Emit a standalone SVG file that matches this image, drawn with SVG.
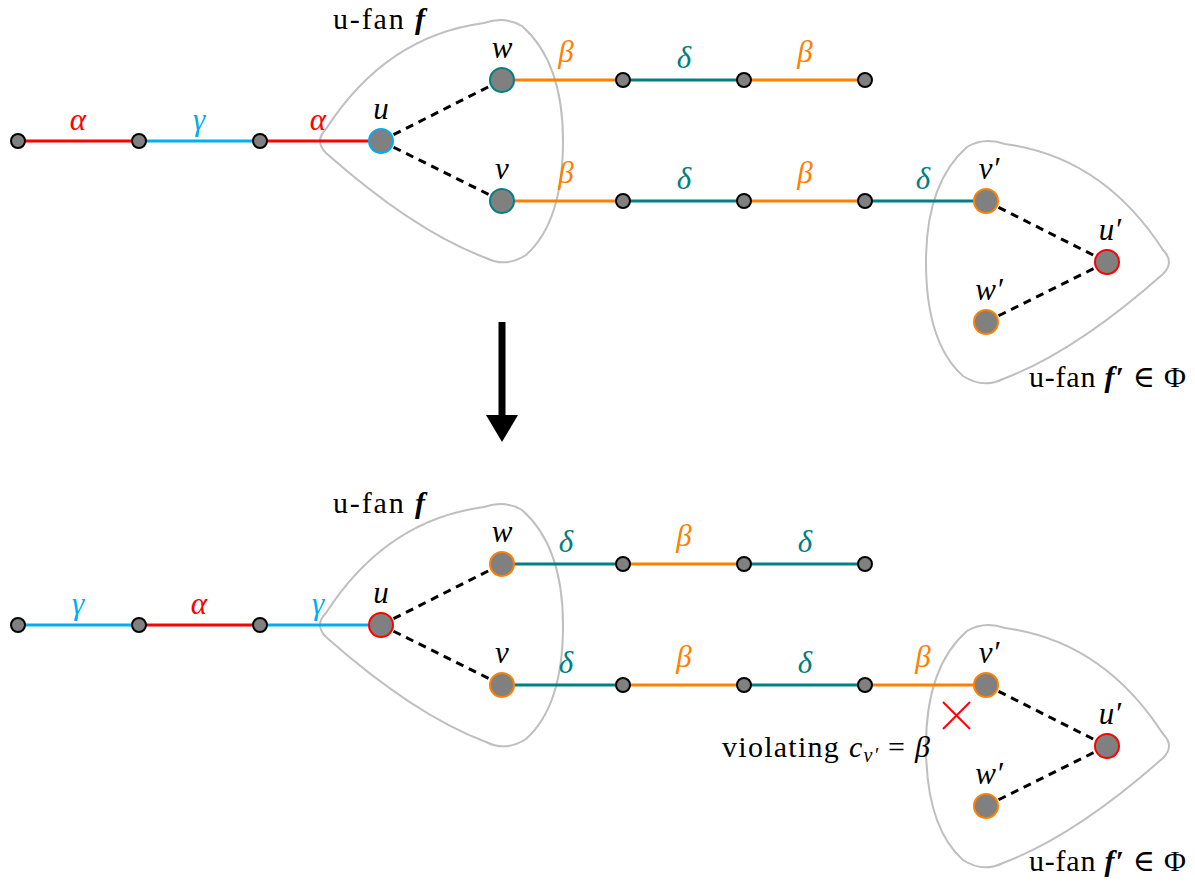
<svg xmlns="http://www.w3.org/2000/svg" width="1195" height="888" viewBox="0 0 1195 888">
<defs>
<style>
.fan{fill:none;stroke:#bfbfbf;stroke-width:2}
.e{stroke-width:3;fill:none}
.red{stroke:#ff0000}.cy{stroke:#00aeef}.or{stroke:#ff8000}.tl{stroke:#008080}
.d{stroke:#000;stroke-width:3;stroke-dasharray:8,6;fill:none}
.s{fill:#808080;stroke:#000;stroke-width:2}
.b{fill:#808080;stroke-width:2}
text{font-family:'Liberation Serif','Times New Roman','DejaVu Serif',serif}
.t{font-size:30px;fill:#000}
.g{font-style:italic;font-size:31px;text-anchor:middle}
.ta{fill:#ff0000}.tc{fill:#00aeef}.to{fill:#ff8000}.tt{fill:#008080}.tk{fill:#000}
</style>
<path id="fanshape" d="M 326,129 Q 386,36 484,23 Q 505,16 522,26 Q 563,62 563,141 Q 563,222 526,255 Q 506,268 486,258 Q 414,231 326,153 Q 314,141 326,129 Z"/>
</defs>

<!-- fans -->
<g id="fans">
<use href="#fanshape" class="fan"/>
<use href="#fanshape" class="fan" transform="translate(1489,121) scale(-1,1)"/>
<use href="#fanshape" class="fan" transform="translate(0,484)"/>
<use href="#fanshape" class="fan" transform="translate(1489,605) scale(-1,1)"/>
</g>

<!-- connectors -->
<g id="connectors">
<line class="e red" x1="18" y1="141" x2="139" y2="141"/>
<line class="e cy" x1="139" y1="141" x2="260" y2="141"/>
<line class="e red" x1="260" y1="141" x2="381" y2="141"/>
<line class="e or" x1="502" y1="80" x2="623" y2="80"/>
<line class="e tl" x1="623" y1="80" x2="744" y2="80"/>
<line class="e or" x1="744" y1="80" x2="865" y2="80"/>
<line class="e or" x1="502" y1="201" x2="623" y2="201"/>
<line class="e tl" x1="623" y1="201" x2="744" y2="201"/>
<line class="e or" x1="744" y1="201" x2="865" y2="201"/>
<line class="e tl" x1="865" y1="201" x2="986" y2="201"/>
<line class="d" x1="381" y1="141" x2="502" y2="80"/>
<line class="d" x1="381" y1="141" x2="502" y2="201"/>
<line class="d" x1="986" y1="201" x2="1107" y2="262"/>
<line class="d" x1="986" y1="322" x2="1107" y2="262"/>
<line class="e cy" x1="18" y1="625" x2="139" y2="625"/>
<line class="e red" x1="139" y1="625" x2="260" y2="625"/>
<line class="e cy" x1="260" y1="625" x2="381" y2="625"/>
<line class="e tl" x1="502" y1="564" x2="623" y2="564"/>
<line class="e or" x1="623" y1="564" x2="744" y2="564"/>
<line class="e tl" x1="744" y1="564" x2="865" y2="564"/>
<line class="e tl" x1="502" y1="685" x2="623" y2="685"/>
<line class="e or" x1="623" y1="685" x2="744" y2="685"/>
<line class="e tl" x1="744" y1="685" x2="865" y2="685"/>
<line class="e or" x1="865" y1="685" x2="986" y2="685"/>
<line class="d" x1="381" y1="625" x2="502" y2="564"/>
<line class="d" x1="381" y1="625" x2="502" y2="685"/>
<line class="d" x1="986" y1="685" x2="1107" y2="746"/>
<line class="d" x1="986" y1="806" x2="1107" y2="746"/>
<line x1="502" y1="322" x2="502" y2="418" stroke="#000" stroke-width="7"/>
<polygon points="486,415 518,415 502,442" fill="#000"/>
<line x1="943" y1="702" x2="970" y2="729" stroke="#ff0000" stroke-width="2"/>
<line x1="970" y1="702" x2="943" y2="729" stroke="#ff0000" stroke-width="2"/>
</g>

<!-- top nodes -->
<g id="top-n1"><circle class="s" cx="18" cy="141" r="7"/></g>
<g id="top-n2"><circle class="s" cx="139" cy="141" r="7"/></g>
<g id="top-n3"><circle class="s" cx="260" cy="141" r="7"/></g>
<g id="top-u"><circle class="b" cx="381" cy="141" r="12" stroke="#00aeef"/><text class="g tk" x="381" y="119">u</text></g>
<g id="top-w"><circle class="b" cx="502" cy="80" r="12" stroke="#008080"/><text class="g tk" x="502" y="58">w</text></g>
<g id="top-v"><circle class="b" cx="502" cy="201" r="12" stroke="#008080"/><text class="g tk" x="502" y="179">v</text></g>
<g id="top-w1"><circle class="s" cx="623" cy="80" r="7"/></g>
<g id="top-w2"><circle class="s" cx="744" cy="80" r="7"/></g>
<g id="top-w3"><circle class="s" cx="865" cy="80" r="7"/></g>
<g id="top-v1"><circle class="s" cx="623" cy="201" r="7"/></g>
<g id="top-v2"><circle class="s" cx="744" cy="201" r="7"/></g>
<g id="top-v3"><circle class="s" cx="865" cy="201" r="7"/></g>
<g id="top-vp"><circle class="b" cx="986" cy="201" r="12" stroke="#ff8000"/><text class="g tk" x="989" y="179">v′</text></g>
<g id="top-up"><circle class="b" cx="1107" cy="262" r="12" stroke="#ff0000"/><text class="g tk" x="1110" y="240">u′</text></g>
<g id="top-wp"><circle class="b" cx="986" cy="322" r="12" stroke="#ff8000"/><text class="g tk" x="989" y="300">w′</text></g>

<g id="top-labels">
<text class="g ta" x="78" y="130">α</text>
<text class="g tc" x="199" y="130">γ</text>
<text class="g ta" x="318" y="130">α</text>
<text class="g to" x="566" y="62">β</text>
<text class="g tt" x="684" y="68">δ</text>
<text class="g to" x="805" y="62">β</text>
<text class="g to" x="566" y="183">β</text>
<text class="g tt" x="684" y="189">δ</text>
<text class="g to" x="805" y="183">β</text>
<text class="g tt" x="923" y="189">δ</text>
<text class="t" x="333" y="29" textLength="92" lengthAdjust="spacing">u-fan  <tspan font-weight="bold" font-style="italic">f</tspan></text>
<text class="t" x="1029" y="387" textLength="157" lengthAdjust="spacing">u-fan  <tspan font-weight="bold" font-style="italic">f′</tspan> ∈ Φ</text>
</g>

<!-- bottom nodes -->
<g id="bot-n1"><circle class="s" cx="18" cy="625" r="7"/></g>
<g id="bot-n2"><circle class="s" cx="139" cy="625" r="7"/></g>
<g id="bot-n3"><circle class="s" cx="260" cy="625" r="7"/></g>
<g id="bot-u"><circle class="b" cx="381" cy="625" r="12" stroke="#ff0000"/><text class="g tk" x="381" y="603">u</text></g>
<g id="bot-w"><circle class="b" cx="502" cy="564" r="12" stroke="#ff8000"/><text class="g tk" x="502" y="542">w</text></g>
<g id="bot-v"><circle class="b" cx="502" cy="685" r="12" stroke="#ff8000"/><text class="g tk" x="502" y="663">v</text></g>
<g id="bot-w1"><circle class="s" cx="623" cy="564" r="7"/></g>
<g id="bot-w2"><circle class="s" cx="744" cy="564" r="7"/></g>
<g id="bot-w3"><circle class="s" cx="865" cy="564" r="7"/></g>
<g id="bot-v1"><circle class="s" cx="623" cy="685" r="7"/></g>
<g id="bot-v2"><circle class="s" cx="744" cy="685" r="7"/></g>
<g id="bot-v3"><circle class="s" cx="865" cy="685" r="7"/></g>
<g id="bot-vp"><circle class="b" cx="986" cy="685" r="12" stroke="#ff8000"/><text class="g tk" x="989" y="663">v′</text></g>
<g id="bot-up"><circle class="b" cx="1107" cy="746" r="12" stroke="#ff0000"/><text class="g tk" x="1110" y="724">u′</text></g>
<g id="bot-wp"><circle class="b" cx="986" cy="806" r="12" stroke="#ff8000"/><text class="g tk" x="989" y="784">w′</text></g>

<g id="bot-labels">
<text class="g tc" x="78" y="614">γ</text>
<text class="g ta" x="199" y="614">α</text>
<text class="g tc" x="318" y="614">γ</text>
<text class="g tt" x="566" y="552">δ</text>
<text class="g to" x="684" y="546">β</text>
<text class="g tt" x="805" y="552">δ</text>
<text class="g tt" x="566" y="673">δ</text>
<text class="g to" x="684" y="667">β</text>
<text class="g tt" x="805" y="673">δ</text>
<text class="g to" x="923" y="667">β</text>
<text class="t" x="333" y="513" textLength="92" lengthAdjust="spacing">u-fan  <tspan font-weight="bold" font-style="italic">f</tspan></text>
<text class="t" x="1029" y="871" textLength="157" lengthAdjust="spacing">u-fan  <tspan font-weight="bold" font-style="italic">f′</tspan> ∈ Φ</text>
<text class="t" x="722" y="757" textLength="208" lengthAdjust="spacing">violating <tspan font-style="italic">c</tspan><tspan font-style="italic" font-size="20" dy="5">v′</tspan><tspan dy="-5"> = </tspan><tspan font-style="italic">β</tspan></text>
</g>
</svg>
